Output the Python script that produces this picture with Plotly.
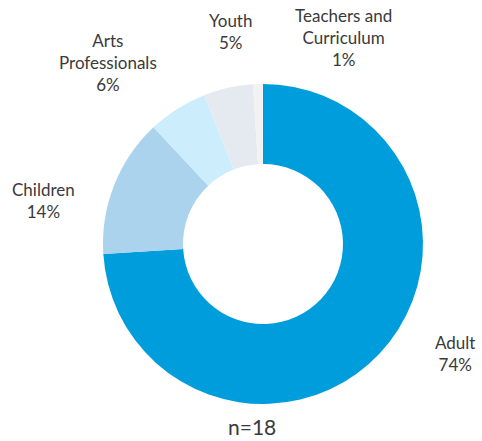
import plotly.graph_objects as go

labels = ["Adult", "Children", "Arts<br>Professionals", "Youth", "Teachers and<br>Curriculum"]
values = [74, 14, 6, 5, 1]
colors = ["#009ddc", "#abd3ee", "#ccedfc", "#e5eaf0", "#f2f2f2"]
label_pos = [(455, 353), (43, 200), (108, 62), (230, 31), (343, 38)]
note = "n=18"

W, H = 482, 441
fig = go.Figure()
fig.add_trace(go.Pie(
    labels=labels, values=values, hole=0.5, sort=False, direction="clockwise",
    rotation=0, marker=dict(colors=colors, line=dict(color="white", width=0)),
    textinfo="none", hoverinfo="label+percent", showlegend=False,
    domain=dict(x=[103 / W, 423 / W], y=[(H - 404) / H, (H - 84) / H]),
))
font = dict(family="Lato", size=17, color="#3a3a3a")
for lab, v, (px, py) in zip(labels, values, label_pos):
    fig.add_annotation(x=px / W, y=1 - py / H, xref="paper", yref="paper",
                       text=f"{lab}<br>{v}%", showarrow=False, font=font,
                       align="center", xanchor="center", yanchor="middle")
fig.add_annotation(x=252 / W, y=1 - 426 / H, xref="paper", yref="paper", text=note,
                   showarrow=False, font=dict(family="Lato", size=21, color="#3a3a3a"),
                   xanchor="center", yanchor="middle")
fig.update_layout(width=W, height=H, margin=dict(l=0, r=0, t=0, b=0),
                  paper_bgcolor="white", plot_bgcolor="white")
fig.write_html("out.html")
